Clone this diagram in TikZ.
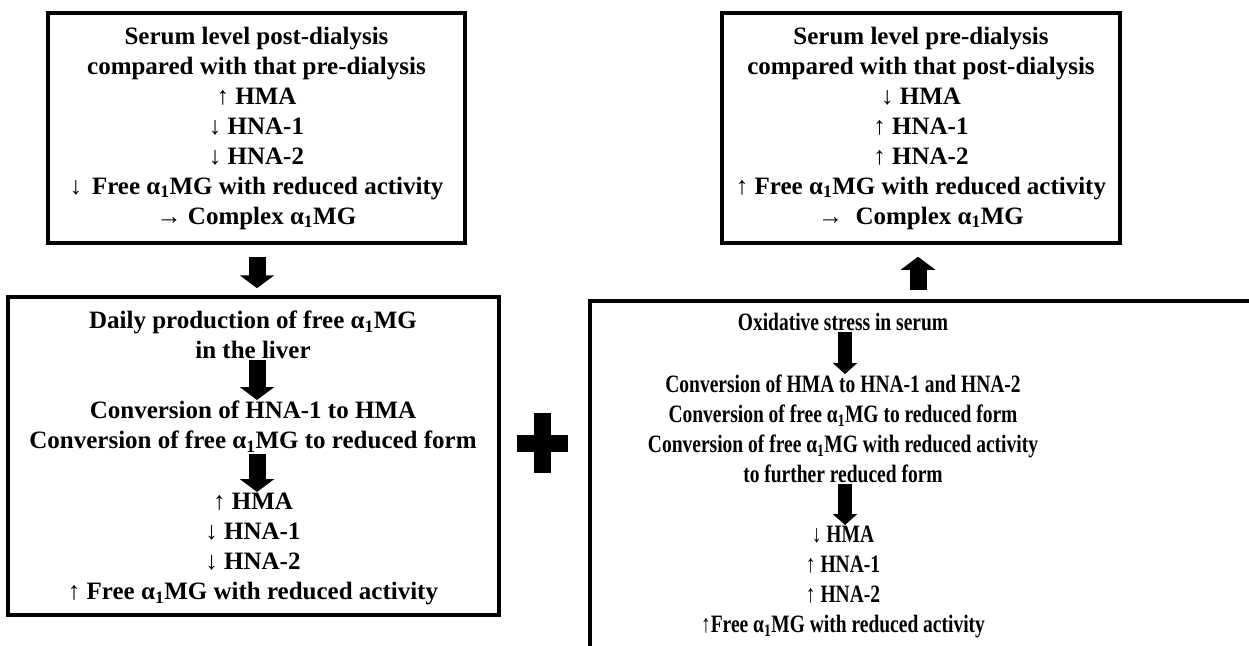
\documentclass[tikz,border=0pt]{standalone}
\usepackage{fontspec}
\setmainfont{Liberation Serif}
\newfontfamily\narrowfont[FakeStretch=0.78]{Liberation Serif}
\usetikzlibrary{arrows.meta}

\newcommand{\amg}{α\textsubscript{1}MG}
\newcommand{\upar}{\textmd{↑}}
\newcommand{\dnar}{\textmd{↓}}
\newcommand{\rtar}{\textmd{→}}

\begin{document}
\begin{tikzpicture}[x=1pt, y=-1pt,
  every node/.style={font=\fontsize{25}{30}\selectfont\bfseries, align=center, inner sep=1pt},
  box/.style={draw, rectangle, line width=3.5pt},
  narrow/.style={font=\narrowfont\fontsize{25}{30}\selectfont\bfseries},
  bigarrow/.style={line width=17pt, -{Triangle[width=34pt,length=13pt]}},
  smallarrow/.style={line width=14pt, -{Triangle[width=24pt,length=11pt]}}]

\useasboundingbox (0,0) rectangle (1249,645);

% the two serum level boxes on top

\node[box, minimum width=417pt, minimum height=230pt] (post) at (256.5,128) {Serum level post-dialysis\\
compared with that pre-dialysis\\
\upar\ HMA\\
\dnar\ HNA-1\\
\dnar\ HNA-2\\
\dnar\hspace{0.4em}Free \amg\ with reduced activity\\
\rtar\ Complex \amg};

\node[box, minimum width=398pt, minimum height=230pt] (pre) at (921,128) {Serum level pre-dialysis\\
compared with that post-dialysis\\
\dnar\ HMA\\
\upar\ HNA-1\\
\upar\ HNA-2\\
\upar\ Free \amg\ with reduced activity\\
\rtar\ \ Complex \amg};

% liver box

\node[box, minimum width=491pt, minimum height=318pt] (liver) at (253.5,456) {};

\node[anchor=north] (daily) at (253,310) {Daily production of free \amg\\ in the liver};
\node[anchor=north] (conv) at (253,400) {Conversion of HNA-1 to HMA\\ Conversion of free \amg\ to reduced form};
\node[anchor=north] (lres) at (253,492) {\upar\ HMA\\ \dnar\ HNA-1\\ \dnar\ HNA-2\\ \upar\ Free \amg\ with reduced activity};

\draw[bigarrow] (daily.south -| 257,0) -- (conv.north -| 257,0);
\draw[bigarrow] (conv.south -| 257,0) -- (lres.north -| 257,0);

% oxidative stress box, cut off at the page edge

\begin{scope}
\clip (0,0) rectangle (1249,645);
\node[box, anchor=north west, minimum width=720pt, minimum height=400pt] (ox) at (588,299) {};
\end{scope}

\node[narrow, anchor=north] (stress) at (843,312) {Oxidative stress in serum};
\node[narrow, anchor=north] (oxconv) at (843,374) {Conversion of HMA to HNA-1 and HNA-2\\
Conversion of free \amg\ to reduced form\\
Conversion of free \amg\ with reduced activity\\
to further reduced form};
\node[narrow, anchor=north] (rres) at (843,525) {\dnar\ HMA\\ \upar\ HNA-1\\ \upar\ HNA-2\\ \upar Free \amg\ with reduced activity};

\draw[smallarrow] (stress.south -| 845,0) -- (oxconv.north -| 845,0);
\draw[smallarrow] (oxconv.south -| 845,0) -- (rres.north -| 845,0);

% arrows between the boxes

\draw[bigarrow, shorten <=12pt, shorten >=7pt] (post.south -| 257,0) -- (liver.north -| 257,0);
\draw[bigarrow, shorten <=9pt, shorten >=12pt] (ox.north -| 918,0) -- (pre.south -| 918,0);

% plus sign

\fill (517,435) rectangle (568,452);
\fill (534,413) rectangle (551,473);

\end{tikzpicture}
\end{document}
